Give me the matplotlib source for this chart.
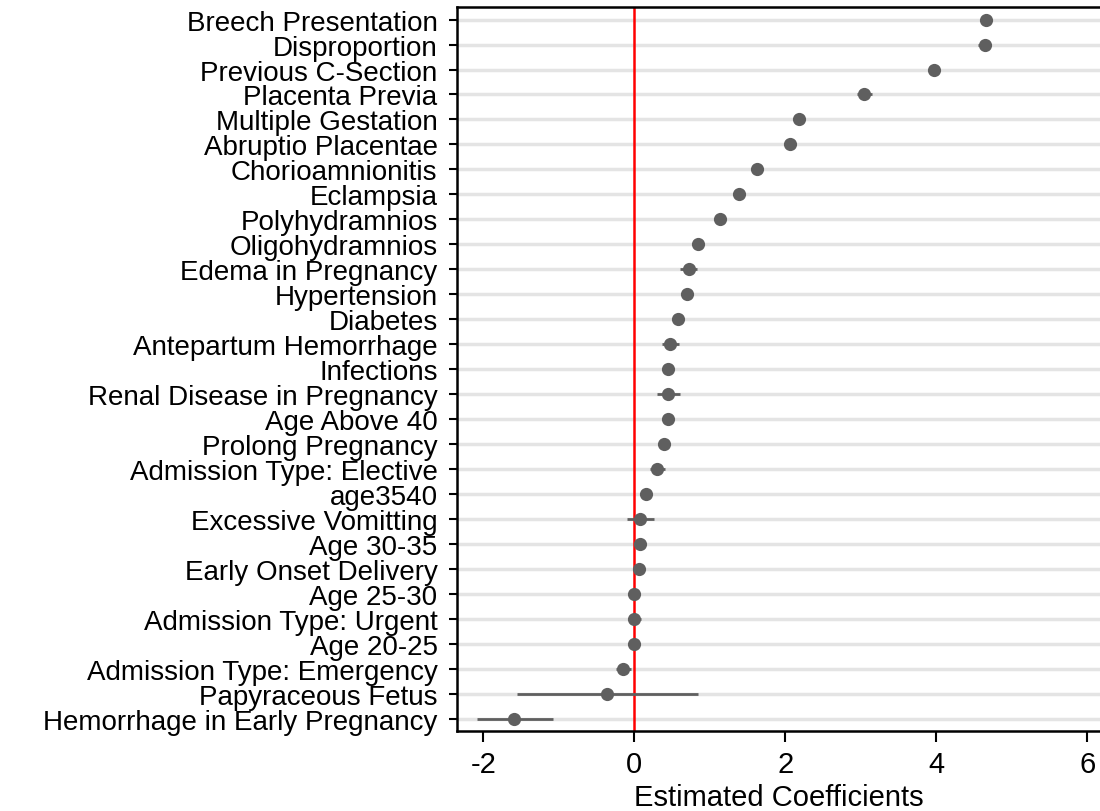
import matplotlib
matplotlib.use("Agg")
import matplotlib.pyplot as plt

# coefficient estimates, top to bottom
labels = [
    "Breech Presentation", "Disproportion", "Previous C-Section", "Placenta Previa",
    "Multiple Gestation", "Abruptio Placentae", "Chorioamnionitis", "Eclampsia",
    "Polyhydramnios", "Oligohydramnios", "Edema in Pregnancy", "Hypertension",
    "Diabetes", "Antepartum Hemorrhage", "Infections", "Renal Disease in Pregnancy",
    "Age Above 40", "Prolong Pregnancy", "Admission Type: Elective", "age3540",
    "Excessive Vomitting", "Age 30-35", "Early Onset Delivery", "Age 25-30",
    "Admission Type: Urgent", "Age 20-25", "Admission Type: Emergency",
    "Papyraceous Fetus", "Hemorrhage in Early Pregnancy",
]
coef = [4.66, 4.64, 3.97, 3.04, 2.18, 2.06, 1.62, 1.39, 1.13, 0.84,
        0.72, 0.70, 0.58, 0.47, 0.45, 0.45, 0.44, 0.39, 0.30, 0.16,
        0.08, 0.07, 0.06, 0.00, 0.00, 0.00, -0.145, -0.36, -1.59]
ci_low = [4.62, 4.55, 3.93, 2.95, 2.14, 2.02, 1.58, 1.36, 1.10, 0.81,
          0.61, 0.66, 0.55, 0.37, 0.42, 0.30, 0.41, 0.36, 0.21, 0.13,
          -0.10, 0.04, 0.03, -0.03, -0.08, -0.03, -0.24, -1.55, -2.09]
ci_high = [4.70, 4.73, 4.01, 3.15, 2.22, 2.10, 1.66, 1.42, 1.16, 0.87,
           0.83, 0.74, 0.61, 0.59, 0.48, 0.60, 0.47, 0.42, 0.41, 0.19,
           0.26, 0.10, 0.09, 0.03, 0.09, 0.03, -0.04, 0.84, -1.08]

plt.rcParams['font.family'] = ['Liberation Sans', 'DejaVu Sans']
plt.rcParams['axes.unicode_minus'] = False

fig = plt.figure(figsize=(11, 8.12), dpi=100)
ax = fig.add_axes([0.4155, 0.0985, 0.5845, 0.8915])

n = len(labels)
ypos = [n - 1 - i for i in range(n)]

for y in ypos:
    ax.axhline(y, color='#e4e4e4', lw=2.5, zorder=0)
ax.axvline(0, color='#ff0000', lw=1.8, zorder=1)
ax.hlines(ypos, ci_low, ci_high, color='#5f5f5f', lw=2, zorder=2)
ax.plot(coef, ypos, 'o', color='#5f5f5f', ms=9.5, mec='none', zorder=3)

ax.set_xlim(-2.35, 6.17)
ax.set_ylim(-0.5, n - 0.5)
ax.set_yticks(ypos)
ax.set_yticklabels(labels, fontsize=20)
ax.set_xticks([-2, 0, 2, 4, 6])
ax.tick_params(axis='x', labelsize=21, length=8, width=1.5, pad=6)
ax.tick_params(axis='y', length=6, width=1.5, pad=8)
ax.set_xlabel('Estimated Coefficients', fontsize=21, labelpad=3)

ax.spines['right'].set_visible(False)
for s in ['left', 'top', 'bottom']:
    ax.spines[s].set_linewidth(1.8)

fig.savefig('out.png', dpi=100)
